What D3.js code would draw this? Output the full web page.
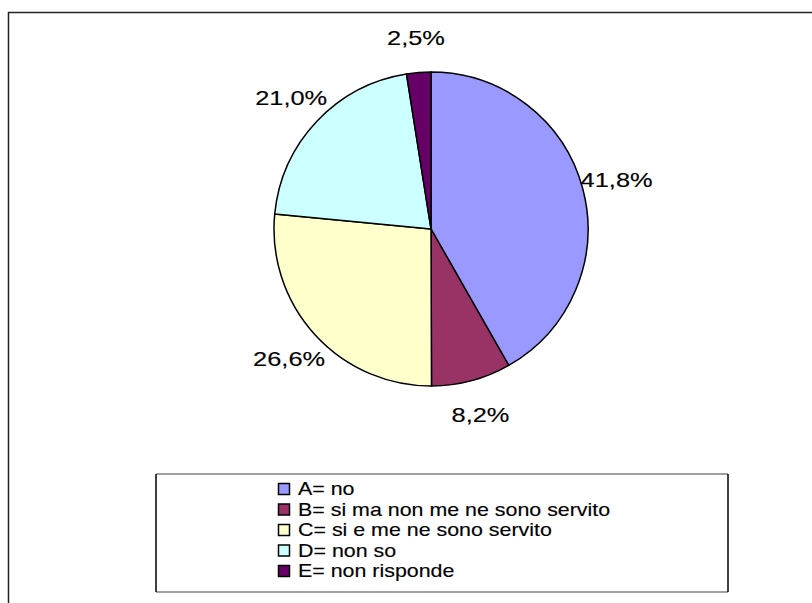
<!DOCTYPE html>
<html>
<head>
<meta charset="utf-8">
<script src="https://cdn.jsdelivr.net/npm/d3@7"></script>
<style>
  body { margin: 0; background: #fff; }
  svg { display: block; font-family: "Liberation Sans", Arial, sans-serif; }
</style>
</head>
<body>
<div id="chart"></div>
<script>
  // data
  const categories = ["A", "B", "C", "D", "E"];
  const legendLabels = [
    "A= no",
    "B= si ma non me ne sono servito",
    "C= si e me ne sono servito",
    "D= non so",
    "E= non risponde",
  ];
  const values = [41.8, 8.2, 26.6, 21.0, 2.5];
  const valueLabels = ["41,8%", "8,2%", "26,6%", "21,0%", "2,5%"];
  const colors = ["#9999FF", "#993366", "#FFFFCC", "#CCFFFF", "#660066"];

  const width = 812,
    height = 603;
  const cx = 431,
    cy = 229,
    radius = 157;
  const stretch = 1.21; // text in the original is drawn wider than normal

  const svg = d3
    .select("#chart")
    .append("svg")
    .attr("width", width)
    .attr("height", height);

  // outer chart frame (runs off the right and bottom of the picture)
  svg
    .append("rect")
    .attr("x", 8.5)
    .attr("y", 12.5)
    .attr("width", width + 20)
    .attr("height", height + 20)
    .attr("fill", "none")
    .attr("stroke", "#222")
    .attr("stroke-width", 1.5);

  // places a horizontally stretched text at (x, y)
  const wideText = (parent, x, y, str, size, anchor) =>
    parent
      .append("g")
      .attr("transform", `translate(${x},${y}) scale(${stretch},1)`)
      .append("text")
      .attr("dy", "0.36em")
      .attr("text-anchor", anchor)
      .attr("font-size", size)
      .attr("fill", "#000")
      .attr("stroke", "#000")
      .attr("stroke-width", 0.15)
      .text(str);

  const color = d3.scaleOrdinal().domain(categories).range(colors);

  const pie = d3
    .pie()
    .sort(null)
    .value((d, i) => values[i]);

  const arcs = pie(categories);

  const arc = d3.arc().innerRadius(0).outerRadius(radius);
  const labelArc = d3.arc().innerRadius(192).outerRadius(192);

  const g = svg.append("g").attr("transform", `translate(${cx},${cy})`);

  g.selectAll("path.slice")
    .data(arcs)
    .enter()
    .append("path")
    .attr("class", "slice")
    .attr("d", arc)
    .attr("fill", (d) => color(d.data))
    .attr("stroke", "#000")
    .attr("stroke-width", 1.5)
    .attr("stroke-linejoin", "round");

  arcs.forEach((d, i) => {
    const [x, y] = labelArc.centroid(d);
    wideText(g, x, y, valueLabels[i], 21, "middle");
  });

  // legend
  const legend = { x0: 156, x1: 728, y0: 474, y1: 592 };
  const lg = svg.append("g");
  lg.append("rect")
    .attr("x", legend.x0)
    .attr("y", legend.y0)
    .attr("width", legend.x1 - legend.x0)
    .attr("height", legend.y1 - legend.y0)
    .attr("fill", "#fff")
    .attr("stroke", "none");
  [
    [legend.x0, legend.y0, legend.x1, legend.y0, "#808080"],
    [legend.x0, legend.y1, legend.x1, legend.y1, "#808080"],
    [legend.x0, legend.y0, legend.x0, legend.y1, "#000"],
    [legend.x1, legend.y0, legend.x1, legend.y1, "#000"],
  ].forEach(([x1, y1, x2, y2, c]) => {
    lg.append("line")
      .attr("x1", x1)
      .attr("y1", y1)
      .attr("x2", x2)
      .attr("y2", y2)
      .attr("stroke", c)
      .attr("stroke-width", 1.5);
  });

  const rowY = d3.scalePoint().domain(categories).range([489, 571]);

  categories.forEach((c, i) => {
    lg.append("rect")
      .attr("x", 278.5)
      .attr("y", rowY(c) - 5.5)
      .attr("width", 11)
      .attr("height", 11)
      .attr("fill", color(c))
      .attr("stroke", "#000")
      .attr("stroke-width", 1.5);
    wideText(lg, 298, rowY(c), legendLabels[i], 17.7, "start");
  });
</script>
</body>
</html>
